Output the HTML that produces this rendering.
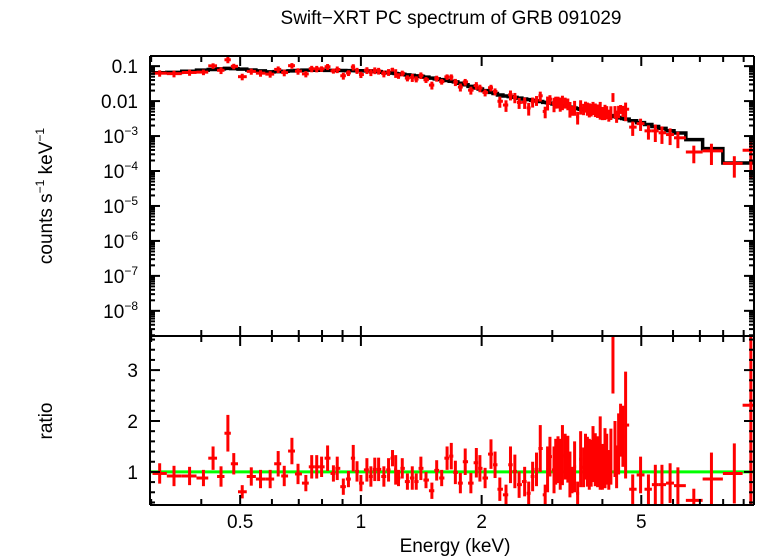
<!DOCTYPE html>
<html><head><meta charset="utf-8"><style>
html,body{margin:0;padding:0;background:#fff;}
svg{display:block;font-family:"Liberation Sans",sans-serif;}
</style></head><body>
<svg id="chart" width="758" height="556" viewBox="0 0 758 556" xmlns="http://www.w3.org/2000/svg">
<text x="451" y="24" font-size="19" text-anchor="middle">Swift−XRT PC spectrum of GRB 091029</text>
<text transform="translate(52,196) rotate(-90)" font-size="19" text-anchor="middle">counts s<tspan font-size="12" dy="-8">−1</tspan><tspan dy="8"> keV</tspan><tspan font-size="12" dy="-8">−1</tspan></text>
<text transform="translate(52,421) rotate(-90)" font-size="19" text-anchor="middle">ratio</text>
<text x="455" y="552" font-size="19" text-anchor="middle">Energy (keV)</text>
<g id="g"></g>
</svg>
<script>
const energies=[0.315,0.342,0.374,0.405,0.428,0.448,0.466,0.482,0.506,0.533,0.562,0.594,0.622,0.644,0.673,0.697,0.729,0.754,0.776,0.798,0.826,0.854,0.873,0.904,0.931,0.957,0.978,1.00,1.035,1.059,1.083,1.107,1.141,1.172,1.199,1.221,1.241,1.268,1.306,1.343,1.374,1.411,1.453,1.503,1.545,1.59,1.64,1.68,1.72,1.77,1.82,1.88,1.94,1.98,2.04,2.11,2.16,2.22,2.30,2.36,2.42,2.48,2.56,2.62,2.68,2.74,2.80,2.88,2.96,3.03,3.10,3.18,3.28,3.36,3.47,3.59,3.67,3.75,3.84,3.95,4.06,4.15,4.25,4.34,4.44,4.57,4.76,4.98,5.21,5.42,5.63,5.90,6.17,6.76,7.48,8.53,9.38,
 2.92,3.06,3.14,3.23,3.32,3.41,3.53,3.63,3.71,3.79,3.89,4.00,4.10,4.20,4.30,4.39,4.50];
const ratios=[0.97,0.92,0.92,0.88,1.27,0.91,1.76,1.16,0.61,0.91,0.86,0.86,1.16,0.92,1.41,0.96,0.78,1.10,1.10,1.10,1.27,0.97,1.07,0.71,0.86,1.27,1.01,0.78,1.04,0.91,1.05,1.05,0.91,1.04,1.27,1.04,0.88,1.07,0.81,0.88,0.81,1.07,0.84,0.63,1.03,0.88,1.27,1.31,0.99,0.78,1.20,0.78,1.18,1.07,0.88,1.35,1.14,0.66,0.55,1.14,1.01,0.75,0.81,0.58,0.91,1.05,1.46,0.55,1.30,1.04,1.24,1.33,1.25,0.84,0.58,1.09,1.20,1.17,1.24,1.37,1.27,1.04,3.55,1.10,1.82,1.92,0.66,0.94,0.66,0.75,0.75,0.78,0.73,0.44,0.86,0.97,2.31,
 1.05,1.20,1.15,1.30,0.95,1.10,1.25,1.30,1.15,1.35,1.20,1.10,1.25,1.30,1.45,1.55,1.70];
const ratioErr=[0.20,0.20,0.18,0.16,0.23,0.20,0.36,0.21,0.13,0.18,0.18,0.18,0.25,0.20,0.26,0.20,0.16,0.23,0.23,0.20,0.25,0.16,0.23,0.16,0.16,0.26,0.20,0.16,0.23,0.20,0.23,0.23,0.20,0.23,0.16,0.29,0.16,0.20,0.16,0.23,0.16,0.23,0.16,0.16,0.20,0.16,0.23,0.26,0.23,0.20,0.26,0.20,0.29,0.26,0.20,0.29,0.26,0.23,0.20,0.36,0.33,0.26,0.29,0.23,0.29,0.33,0.46,0.20,0.39,0.46,0.46,0.59,0.46,0.26,0.23,0.39,0.49,0.46,0.52,0.72,0.59,0.39,1.01,0.42,0.52,1.05,0.29,0.36,0.29,0.39,0.39,0.39,0.36,0.23,0.52,0.59,1.96,
 0.45,0.45,0.50,0.45,0.45,0.50,0.55,0.45,0.50,0.55,0.50,0.45,0.50,0.55,0.55,0.60,0.60];
const modelE=[0.30,0.34,0.47,0.52,0.60,0.73,1.07,1.43,1.73,2.22,2.95,3.93,5.24,6.2,6.8,7.5,8.5,9.4,9.6];
const modelV=[0.064,0.066,0.087,0.080,0.068,0.077,0.073,0.050,0.035,0.015,0.0088,0.0046,0.0021,0.0012,0.00077,0.00043,0.00017,0.00017,0.00008];
const xTickMajor=[0.5,1,2,5];
const xTickLabels=["0.5","1","2","5"];
const yTopDecades=[-1,-2,-3,-4,-5,-6,-7,-8];
const yTopLabels=["0.1","0.01","10|−3","10|−4","10|−5","10|−6","10|−7","10|−8"];
const ratioTicks=[1,2,3];

const NS="http://www.w3.org/2000/svg";
const g=document.getElementById('g');
const X0=150,X1=754,T0=56,T1=336,B1=505;
const xmin=0.298,xmax=9.55;
const ltmin=-8.72,ltmax=-0.71;
const rmin=0.35,rmax=3.67;
const xs=e=>X0+(Math.log10(e)-Math.log10(xmin))/(Math.log10(xmax)-Math.log10(xmin))*(X1-X0);
const yt=v=>{let l=Math.log10(Math.max(v,1e-12));l=Math.max(ltmin,Math.min(ltmax,l));return T1-(l-ltmin)/(ltmax-ltmin)*(T1-T0);};
const yb=r=>{r=Math.max(rmin,Math.min(rmax,r));return B1-(r-rmin)/(rmax-rmin)*(B1-T1);};
function line(x1,y1,x2,y2,c,w){const l=document.createElementNS(NS,'line');l.setAttribute('x1',x1);l.setAttribute('y1',y1);l.setAttribute('x2',x2);l.setAttribute('y2',y2);l.setAttribute('stroke',c);l.setAttribute('stroke-width',w);g.appendChild(l);return l;}
function text(x,y,s,anchor){const t=document.createElementNS(NS,'text');t.setAttribute('x',x);t.setAttribute('y',y);t.setAttribute('font-size','19');t.setAttribute('text-anchor',anchor);
 const parts=s.split('|');t.textContent=parts[0];if(parts[1]){const sp=document.createElementNS(NS,'tspan');sp.setAttribute('font-size','12');sp.setAttribute('dy','-8');sp.textContent=parts[1];t.appendChild(sp);}g.appendChild(t);return t;}
function model(e){const L=Math.log10(e);
 if(e<=modelE[0])return modelV[0];
 for(let i=1;i<modelE.length;i++){if(e<=modelE[i]){const a=Math.log10(modelE[i-1]),b=Math.log10(modelE[i]);const f=(L-a)/(b-a);return Math.pow(10,Math.log10(modelV[i-1])+f*(Math.log10(modelV[i])-Math.log10(modelV[i-1])));}}
 return modelV[modelV.length-1];}
const order=energies.map((e,i)=>i).sort((a,b)=>energies[a]-energies[b]);
const E=order.map(i=>energies[i]),R=order.map(i=>ratios[i]),RE=order.map(i=>ratioErr[i]);
const edges=[];
for(let i=0;i<=E.length;i++){
 if(i===0)edges.push(Math.pow(10,Math.log10(E[0])-(Math.log10(E[1])-Math.log10(E[0]))/2));
 else if(i===E.length)edges.push(xmax);
 else edges.push(Math.sqrt(E[i-1]*E[i]));
}
let d='';
for(let i=0;i<E.length;i++){const y=yt(model(E[i]));const xa=Math.max(X0,xs(edges[i])),xb=xs(edges[i+1]);d+=(i===0?'M':'L')+xa+','+y+' L'+xb+','+y+' ';}
const mp=document.createElementNS(NS,'path');mp.setAttribute('d',d);mp.setAttribute('fill','none');mp.setAttribute('stroke','#000');mp.setAttribute('stroke-width','3.5');


g.appendChild(mp);
for(let i=0;i<E.length;i++){
 const m=model(E[i]);const c=m*R[i];const ce=m*RE[i];
 const xa=Math.max(X0,xs(edges[i])),xb=Math.min(X1,xs(edges[i+1])),xc=xs(E[i]);
 const h=line(xa,yt(c),xb,yt(c),'#f00',3);
 
 
 const v=line(xc,yt(c+ce),xc,yt(c-ce),'#f00',3);
 
 
}
const gl=line(X0,yb(1),X1,yb(1),'#0f0',3);


for(let i=0;i<E.length;i++){
 const xa=Math.max(X0,xs(edges[i])),xb=Math.min(X1,xs(edges[i+1])),xc=xs(E[i]);
 const r=R[i],e=RE[i];
 const h=line(xa,yb(r),xb,yb(r),'#f00',3);
 
 
 const v=line(xc,yb(r+e),xc,yb(r-e),'#f00',3);
 
 
}
[[X0,T0,X1,T0],[X0,T1,X1,T1],[X0,B1,X1,B1],[X0,T0,X0,B1],[X1,T0,X1,B1]].forEach(a=>{const l=line(a[0],a[1],a[2],a[3],'#000',2);
 
 });
const minorE=[0.3,0.4,0.6,0.7,0.8,0.9,3,4,6,7,8,9];
[[T0,1],[T1,-1],[T1,1],[B1,-1]].forEach(p=>{
 xTickMajor.forEach(e=>{const x=xs(e);const l=line(x,p[0],x,p[0]+p[1]*10,'#000',2);});
 minorE.forEach(e=>{const x=xs(e);const l=line(x,p[0],x,p[0]+p[1]*6,'#000',2);});
});
xTickMajor.forEach((e,i)=>{const t=text(xs(e),528,xTickLabels[i],'middle');
 
 });
yTopDecades.forEach((dcd,i)=>{const y=yt(Math.pow(10,dcd));
 [[X0,1],[X1,-1]].forEach(s=>{const l=line(s[0],y,s[0]+s[1]*10,y,'#000',2);});
 const t=text(138,y+7,yTopLabels[i],'end');
 
 
});
for(let dcd=-9;dcd<=-1;dcd++){for(let k=2;k<=9;k++){const v=k*Math.pow(10,dcd);const l=Math.log10(v);if(l<ltmin||l>ltmax)continue;const y=yt(v);
 [[X0,1],[X1,-1]].forEach(s=>{const ln=line(s[0],y,s[0]+s[1]*5,y,'#000',2);});}}
ratioTicks.forEach(r=>{const y=yb(r);
 [[X0,1],[X1,-1]].forEach(s=>{const l=line(s[0],y,s[0]+s[1]*10,y,'#000',2);});
 const t=text(138,y+7,String(r),'end');
 
 });
for(let r=0.4;r<3.67;r+=0.2){if(Math.abs(r-Math.round(r))<0.01)continue;const y=yb(r);
 [[X0,1],[X1,-1]].forEach(s=>{const l=line(s[0],y,s[0]+s[1]*5,y,'#000',2);});}
</script>
</body></html>
